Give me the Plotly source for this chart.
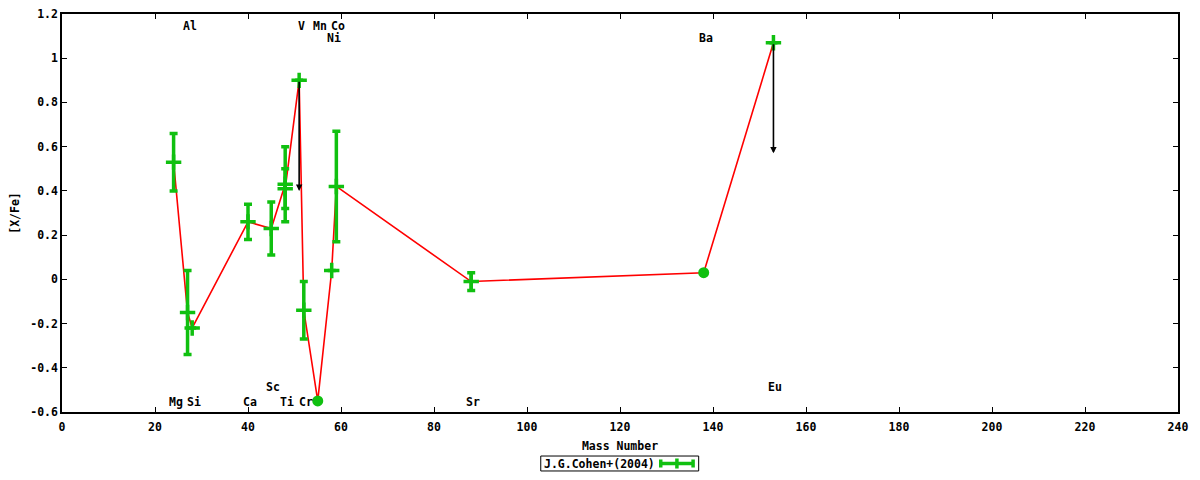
import plotly.graph_objects as go

# ---- data ----
elements = ["Mg", "Al", "Si", "Ca", "Sc", "Ti", "Ti", "V", "Cr", "Mn", "Ni", "Co", "Sr", "Ba", "Eu"]
mass = [24, 27, 28, 40, 45, 48, 48, 51, 52, 55, 58, 59, 88, 138, 153]
xfe = [0.53, -0.15, -0.22, 0.26, 0.23, 0.43, 0.41, 0.90, -0.14, -0.55, 0.04, 0.42, -0.01, 0.03, 1.07]
err = [0.13, 0.19, 0.0, 0.08, 0.12, 0.17, 0.09, 0.0, 0.13, 0.0, 0.0, 0.25, 0.04, 0.0, 0.0]
kind = ["e", "e", "e", "e", "e", "e", "e", "lim", "e", "o", "e", "e", "e", "o", "lim"]
limit_len = 0.5

label_names = ["Al", "V", "Mn", "Co", "Ni", "Ba", "Mg", "Si", "Ca", "Sc", "Ti", "Cr", "Sr", "Eu"]
label_mass = [27, 51, 55, 59, 58, 138, 24, 28, 40, 45, 48, 52, 88, 153]
label_y = [1.145, 1.145, 1.145, 1.145, 1.09, 1.09, -0.555, -0.555, -0.555, -0.485, -0.555, -0.555, -0.555, -0.485]

x_ticks = list(range(0, 241, 20))
y_tickvals = [-0.6, -0.4, -0.2, 0, 0.2, 0.4, 0.6, 0.8, 1, 1.2]
y_ticktext = ["-0.6", "-0.4", "-0.2", "0", "0.2", "0.4", "0.6", "0.8", "1", "1.2"]
legend_label = "J.G.Cohen+(2004)"

GREEN = "#10c010"
RED = "#ff0000"
FONT = dict(family="DejaVu Sans Mono", size=11.5, color="black", weight="bold")

fig = go.Figure()

# connecting red line
fig.add_trace(go.Scatter(x=mass, y=xfe, mode="lines",
                         line=dict(color=RED, width=1.6), showlegend=False, hoverinfo="skip"))

# error-bar points with plus markers
ix = [i for i, k in enumerate(kind) if k in ("e", "lim")]
fig.add_trace(go.Scatter(
    x=[mass[i] for i in ix], y=[xfe[i] for i in ix], mode="markers",
    marker=dict(symbol="cross-thin", size=11, color=GREEN, line=dict(color=GREEN, width=3.5)),
    error_y=dict(type="data", array=[err[i] for i in ix], visible=True,
                 color=GREEN, thickness=3.5, width=4),
    showlegend=False))

# circle points
ic = [i for i, k in enumerate(kind) if k == "o"]
fig.add_trace(go.Scatter(
    x=[mass[i] for i in ic], y=[xfe[i] for i in ic], mode="markers",
    marker=dict(symbol="circle", size=11, color=GREEN), showlegend=False))

# upper-limit arrows
annotations = []
for i, k in enumerate(kind):
    if k == "lim":
        annotations.append(dict(x=mass[i], y=xfe[i] - limit_len, ax=mass[i], ay=xfe[i],
                                xref="x", yref="y", axref="x", ayref="y", text="",
                                showarrow=True, arrowhead=2, arrowsize=0.8, arrowwidth=1.6,
                                arrowcolor="black"))

# element labels
for n, m, yy in zip(label_names, label_mass, label_y):
    annotations.append(dict(x=m, y=yy, xref="x", yref="y", text=n, showarrow=False,
                            font=FONT, xshift=2))

# custom legend
annotations.append(dict(x=0.4305, y=-0.1294, xref="paper", yref="paper", text=legend_label,
                        showarrow=False, xanchor="left", yanchor="middle", font=FONT))
shapes = [
    dict(type="rect", xref="paper", yref="paper", x0=0.429, x1=0.5705, y0=-0.1482, y1=-0.1106,
         line=dict(color="black", width=1), fillcolor="white", layer="below"),
    dict(type="line", xref="paper", yref="paper", x0=0.5365, x1=0.5655, y0=-0.1294, y1=-0.1294,
         line=dict(color=GREEN, width=3.5)),
    dict(type="line", xref="paper", yref="paper", x0=0.5365, x1=0.5365, y0=-0.1193, y1=-0.1395,
         line=dict(color=GREEN, width=3.5)),
    dict(type="line", xref="paper", yref="paper", x0=0.5655, x1=0.5655, y0=-0.1193, y1=-0.1395,
         line=dict(color=GREEN, width=3.5)),
    dict(type="line", xref="paper", yref="paper", x0=0.551, x1=0.551, y0=-0.1168, y1=-0.142,
         line=dict(color=GREEN, width=3.5)),
]

# page body has an 8px margin, so the figure is sized/offset to land the plot area
fig.update_layout(
    width=1184, height=464,
    margin=dict(l=54, r=14, t=6, b=60),
    plot_bgcolor="white", paper_bgcolor="white",
    font=FONT,
    showlegend=False,
    annotations=annotations,
    shapes=shapes,
    xaxis=dict(range=[0, 240], tickvals=x_ticks, ticks="inside", ticklen=5, tickcolor="black",
               showline=True, linecolor="black", linewidth=1.5, mirror="ticks",
               showgrid=False, zeroline=False, tickfont=FONT, automargin=False,
               ticklabelstandoff=3, ticklabeloverflow="allow",
               title=dict(text="Mass Number", font=FONT, standoff=9)),
    yaxis=dict(range=[-0.6, 1.2], tickvals=y_tickvals, ticktext=y_ticktext, ticks="inside",
               ticklen=5, tickcolor="black", showline=True, linecolor="black", linewidth=1.5,
               mirror="ticks", showgrid=False, zeroline=False, tickfont=FONT, automargin=False,
               ticklabeloverflow="allow",
               title=dict(text="[X/Fe]", font=FONT, standoff=12)),
)

fig.write_html("out.html")
